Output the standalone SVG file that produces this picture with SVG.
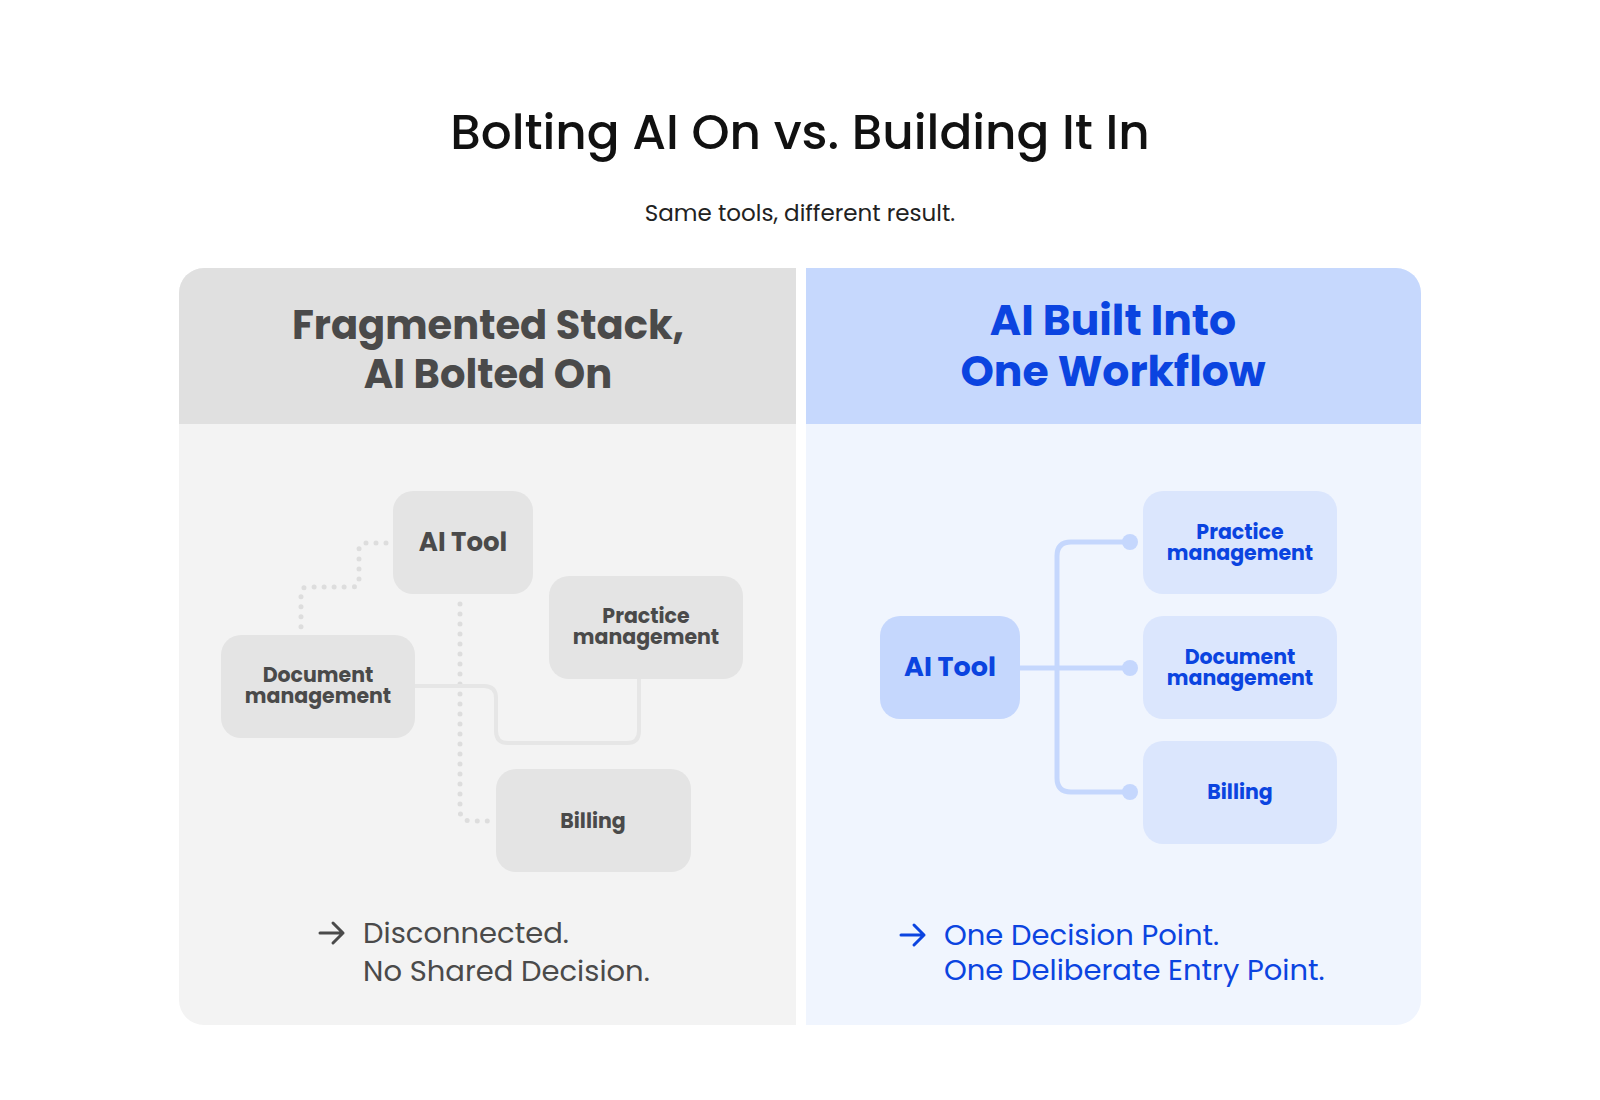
<svg xmlns="http://www.w3.org/2000/svg" width="1600" height="1100" viewBox="0 0 1600 1100">
<style>
text{font-family:Poppins,Inter,"Open Sans",sans-serif}
.g{fill:#4a4a4a}.b{fill:#0b44e0}
.nl{font-size:20.5px;font-weight:700;text-anchor:middle}
.gn{fill:#e4e4e4}.bn{fill:#dbe6fd}
.dot{fill:none;stroke:#dddddd;stroke-width:5;stroke-linecap:round;stroke-dasharray:0 10}
</style>
<rect width="1600" height="1100" fill="#ffffff"/>
<text x="800" y="149" font-size="48.5" font-weight="500" text-anchor="middle" fill="#111">Bolting AI On vs. Building It In</text>
<text x="800" y="221" font-size="23" text-anchor="middle" fill="#222">Same tools, different result.</text>
<g id="left-panel">
<path d="M204 268H796V1025H204a25 25 0 0 1-25-25V293a25 25 0 0 1 25-25z" fill="#f3f3f3"/>
<path d="M204 268H796V424H179V293a25 25 0 0 1 25-25z" fill="#e0e0e0"/>
<text x="488" y="339" font-size="40" font-weight="700" text-anchor="middle" class="g">Fragmented Stack,</text>
<text x="488" y="388" font-size="40" font-weight="700" text-anchor="middle" class="g">AI Bolted On</text>
</g>
<g id="right-panel">
<path d="M806 268H1396a25 25 0 0 1 25 25V1000a25 25 0 0 1-25 25H806z" fill="#f0f5fe"/>
<path d="M806 268H1396a25 25 0 0 1 25 25V424H806z" fill="#c6d8fd"/>
<text x="1113" y="335" font-size="42.5" font-weight="700" text-anchor="middle" class="b">AI Built Into</text>
<text x="1113" y="386" font-size="42.5" font-weight="700" text-anchor="middle" class="b">One Workflow</text>
</g>
<g id="connectors">
<path class="dot" d="M386 543H366q-7 0-7 7V580q0 7-7 7H308q-7 0-7 7V627"/>
<path class="dot" d="M460 604V810q0 11 11 11H493"/>
<path d="M415 686H484q12 0 12 12V731q0 12 12 12H627q12 0 12-12V679" fill="none" stroke="#e6e6e6" stroke-width="4"/>
<path d="M1020 668H1130M1130 542H1071q-14 0-14 14V778q0 14 14 14H1130" fill="none" stroke="#c5d7fd" stroke-width="5"/>
<circle cx="1130" cy="542" r="8" fill="#c5d7fd"/>
<circle cx="1130" cy="668" r="8" fill="#c5d7fd"/>
<circle cx="1130" cy="792" r="8" fill="#c5d7fd"/>
</g>
<g id="l-ai"><rect x="393" y="491" width="140" height="103" rx="20" class="gn"/><text x="463" y="551" font-size="26" font-weight="700" text-anchor="middle" class="g">AI Tool</text></g>
<g id="l-practice"><rect x="549" y="576" width="194" height="103" rx="20" class="gn"/><text x="646" y="623" class="nl g">Practice</text><text x="646" y="644" class="nl g">management</text></g>
<g id="l-document"><rect x="221" y="635" width="194" height="103" rx="20" class="gn"/><text x="318" y="682" class="nl g">Document</text><text x="318" y="703" class="nl g">management</text></g>
<g id="l-billing"><rect x="496" y="769" width="195" height="103" rx="20" class="gn"/><text x="593" y="828" class="nl g">Billing</text></g>
<g id="r-ai"><rect x="880" y="616" width="140" height="103" rx="20" fill="#c5d7fd"/><text x="950" y="676" font-size="27" font-weight="700" text-anchor="middle" class="b">AI Tool</text></g>
<g id="r-practice"><rect x="1143" y="491" width="194" height="103" rx="20" class="bn"/><text x="1240" y="539" class="nl b">Practice</text><text x="1240" y="560" class="nl b">management</text></g>
<g id="r-document"><rect x="1143" y="616" width="194" height="103" rx="20" class="bn"/><text x="1240" y="664" class="nl b">Document</text><text x="1240" y="685" class="nl b">management</text></g>
<g id="r-billing"><rect x="1143" y="741" width="194" height="103" rx="20" class="bn"/><text x="1240" y="799" class="nl b">Billing</text></g>
<g id="left-result">
<path d="M320 933H343M333 923l10 10-10 10" fill="none" stroke="#4a4a4a" stroke-width="3" stroke-linecap="round" stroke-linejoin="round"/>
<text x="363" y="943" font-size="29" class="g">Disconnected.</text>
<text x="363" y="981" font-size="29" class="g">No Shared Decision.</text>
</g>
<g id="right-result">
<path d="M901 935H924M914 925l10 10-10 10" fill="none" stroke="#0b44e0" stroke-width="3" stroke-linecap="round" stroke-linejoin="round"/>
<text x="944" y="945" font-size="29" class="b">One Decision Point.</text>
<text x="944" y="980" font-size="29" class="b">One Deliberate Entry Point.</text>
</g>
</svg>
